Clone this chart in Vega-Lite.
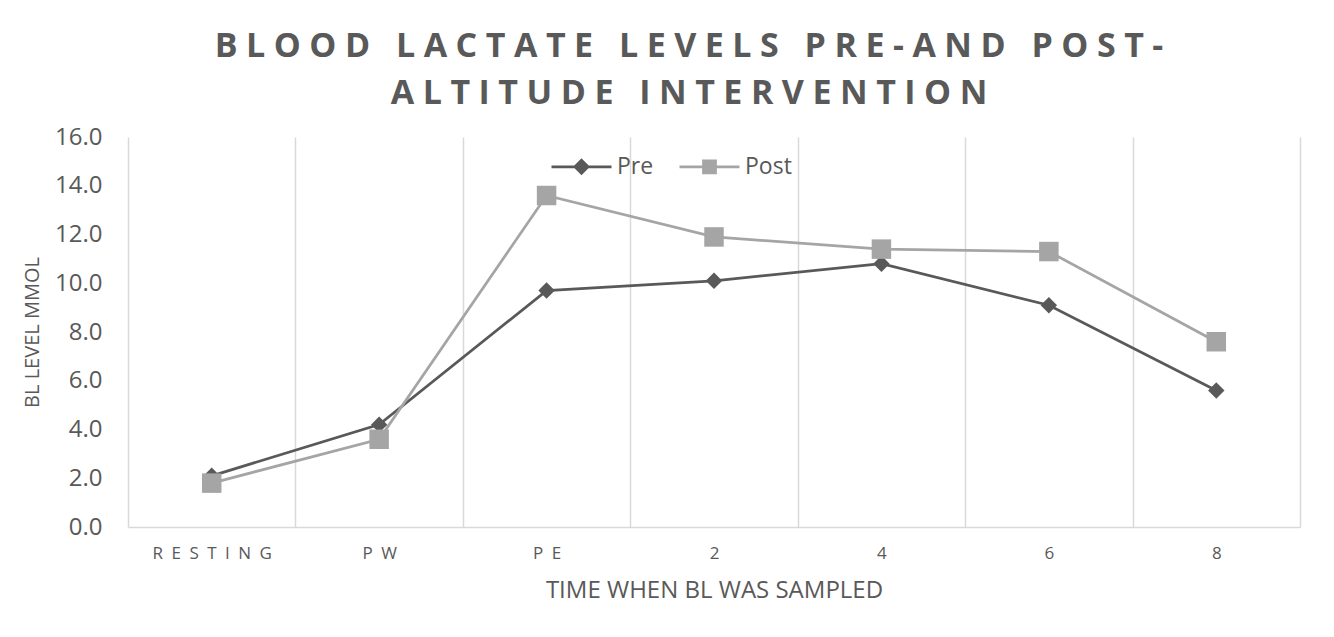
{
  "$schema": "https://vega.github.io/schema/vega-lite/v6.json",
  "width": 1172,
  "height": 390,
  "autosize": {"type": "none"},
  "padding": {"left": 128, "top": 137, "right": 34, "bottom": 110},
  "background": "white",
  "config": {"view": {"stroke": null}, "font": "Open Sans"},
  "title": {
    "text": {"expr": "[join(split('BLOOD LACTATE LEVELS PRE-AND POST-',''),'\u2005'), join(split('ALTITUDE INTERVENTION',''),'\u2005')]"},
    "anchor": "middle",
    "dx": -25,
    "offset": 14,
    "font": "Open Sans",
    "fontSize": 34,
    "fontWeight": "bold",
    "color": "#595959",
    "lineHeight": 47
  },
  "data": {
    "values": [
      {"time": "RESTING", "series": "Pre", "value": 2.1},
      {"time": "PW", "series": "Pre", "value": 4.2},
      {"time": "PE", "series": "Pre", "value": 9.7},
      {"time": "2", "series": "Pre", "value": 10.1},
      {"time": "4", "series": "Pre", "value": 10.8},
      {"time": "6", "series": "Pre", "value": 9.1},
      {"time": "8", "series": "Pre", "value": 5.6},
      {"time": "RESTING", "series": "Post", "value": 1.8},
      {"time": "PW", "series": "Post", "value": 3.6},
      {"time": "PE", "series": "Post", "value": 13.6},
      {"time": "2", "series": "Post", "value": 11.9},
      {"time": "4", "series": "Post", "value": 11.4},
      {"time": "6", "series": "Post", "value": 11.3},
      {"time": "8", "series": "Post", "value": 7.6}
    ]
  },
  "encoding": {
    "x": {
      "field": "time",
      "type": "ordinal",
      "sort": ["RESTING", "PW", "PE", "2", "4", "6", "8"],
      "scale": {"type": "band", "paddingInner": 0, "paddingOuter": 0},
      "bandPosition": 0.5,
      "axis": {
        "title": "TIME WHEN BL WAS SAMPLED",
        "titleFont": "Open Sans",
        "titleFontSize": 24,
        "titleFontWeight": "normal",
        "titleColor": "#595959",
        "titlePadding": 17,
        "labelAngle": 0,
        "labelFont": "Open Sans",
        "labelFontSize": 17,
        "labelColor": "#595959",
        "labelPadding": 18,
        "labelExpr": "join(split(datum.label,''),'\u2002')",
        "ticks": false,
        "domain": true,
        "domainColor": "#D9D9D9",
        "domainWidth": 1.5,
        "grid": true,
        "gridColor": "#D9D9D9",
        "gridWidth": 1.5,
        "tickBand": "extent"
      }
    },
    "y": {
      "field": "value",
      "type": "quantitative",
      "scale": {"domain": [0, 16], "nice": false},
      "axis": {
        "title": "BL LEVEL MMOL",
        "titleFont": "Open Sans",
        "titleFontSize": 20,
        "titleFontWeight": "normal",
        "titleColor": "#595959",
        "titlePadding": 12,
        "labelFont": "Open Sans",
        "labelFontSize": 24,
        "labelColor": "#595959",
        "labelPadding": 26,
        "format": ".1f",
        "values": [0, 2, 4, 6, 8, 10, 12, 14, 16],
        "ticks": false,
        "domain": false,
        "grid": false
      }
    }
  },
  "layer": [
    {
      "mark": {"type": "line", "strokeWidth": 2.75},
      "encoding": {
        "color": {"field": "series", "type": "nominal", "scale": {"domain": ["Pre", "Post"], "range": ["#595959", "#A5A5A5"]}, "legend": null}
      }
    },
    {
      "mark": {"type": "point", "filled": true, "opacity": 1},
      "encoding": {
        "color": {"field": "series", "type": "nominal", "scale": {"domain": ["Pre", "Post"], "range": ["#595959", "#A5A5A5"]}, "legend": null},
        "shape": {"field": "series", "type": "nominal", "scale": {"domain": ["Pre", "Post"], "range": ["diamond", "square"]}, "legend": null},
        "size": {"field": "series", "type": "nominal", "scale": {"domain": ["Pre", "Post"], "range": [270, 380]}, "legend": null}
      }
    },
    {
      "mark": {"type": "point", "filled": false, "opacity": 0, "strokeWidth": 2.75},
      "encoding": {
        "color": {
          "field": "series",
          "type": "nominal",
          "scale": {"domain": ["Pre", "Post"], "range": ["#595959", "#A5A5A5"]},
          "legend": {
            "orient": "none",
            "legendX": 442,
            "legendY": 18,
            "direction": "horizontal",
            "title": null,
            "padding": 0,
            "symbolSize": 100,
            "symbolOpacity": 1,
            "symbolStrokeWidth": 2.75,
            "labelOffset": 24,
            "columnPadding": 20,
            "labelFont": "Open Sans",
            "labelFontSize": 23,
            "labelColor": "#595959"
          }
        },
        "shape": {
          "field": "series",
          "type": "nominal",
          "scale": {
            "domain": ["Pre", "Post"],
            "range": [
              "M-6,0H6M0,-1.3L1.3,0L0,1.3L-1.3,0ZM-1,-0.3H1M-0.7,-0.6H0.7M-0.4,-0.9H0.4M-1,0.3H1M-0.7,0.6H0.7M-0.4,0.9H0.4",
              "M-6,0H6M-1.2,-1.2H1.2V1.2H-1.2ZM-1.2,-0.9H1.2M-1.2,-0.6H1.2M-1.2,-0.3H1.2M-1.2,0.3H1.2M-1.2,0.6H1.2M-1.2,0.9H1.2"
            ]
          },
          "legend": {
            "orient": "none",
            "legendX": 442,
            "legendY": 18,
            "direction": "horizontal",
            "title": null,
            "padding": 0,
            "symbolSize": 100,
            "symbolOpacity": 1,
            "symbolStrokeWidth": 2.75,
            "labelOffset": 24,
            "columnPadding": 20,
            "labelFont": "Open Sans",
            "labelFontSize": 23,
            "labelColor": "#595959"
          }
        }
      }
    }
  ],
  "resolve": {"scale": {"color": "independent", "shape": "independent"}}
}
